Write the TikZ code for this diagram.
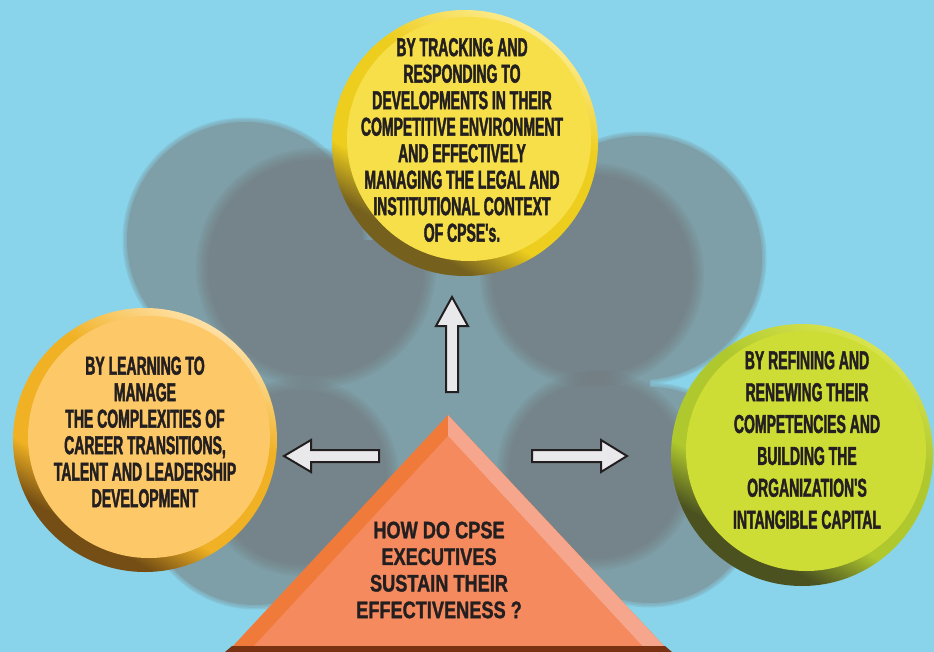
\documentclass[tikz,border=0pt]{standalone}
\usepackage{fontspec}
\newfontfamily\condfont{Liberation Sans}[FakeStretch=0.54,FakeBold=1.6]
\newfontfamily\pyrfont{Liberation Sans}[FakeStretch=0.76,FakeBold=1.2]
\definecolor{sky}{HTML}{89D4EB}
\definecolor{tealgray}{HTML}{7E9FA8}
\definecolor{shadowc}{HTML}{717377}
\definecolor{ink}{HTML}{231F20}
\definecolor{arrowfill}{HTML}{E9E9EB}
\definecolor{yFace}{HTML}{F6DF48}
\definecolor{yLight}{HTML}{FDEB8C}
\definecolor{yMid}{HTML}{EDCD1E}
\definecolor{yDark}{HTML}{75601E}
\definecolor{oFace}{HTML}{FDC868}
\definecolor{oLight}{HTML}{FFE0A5}
\definecolor{oMid}{HTML}{F0B124}
\definecolor{oDark}{HTML}{744E14}
\definecolor{gFace}{HTML}{CEDC36}
\definecolor{gLight}{HTML}{D8E34C}
\definecolor{gMid}{HTML}{AFC82E}
\definecolor{gDark}{HTML}{4B5220}
\definecolor{pFace}{HTML}{F48A5E}
\definecolor{pLeft}{HTML}{F07A3A}
\definecolor{pRight}{HTML}{F6A68C}
\definecolor{pBase}{HTML}{7A3312}
\pgfdeclareverticalshading{rimYel}{100bp}{color(0bp)=(yDark); color(29bp)=(yDark); color(38bp)=(yMid); color(60bp)=(yMid); color(75bp)=(yLight); color(100bp)=(yLight)}
\pgfdeclareverticalshading{rimOra}{100bp}{color(0bp)=(oDark); color(29bp)=(oDark); color(38bp)=(oMid); color(60bp)=(oMid); color(75bp)=(oLight); color(100bp)=(oLight)}
\pgfdeclareverticalshading{rimGre}{100bp}{color(0bp)=(gDark); color(30bp)=(gDark); color(40bp)=(gMid); color(60bp)=(gMid); color(75bp)=(gLight); color(100bp)=(gLight)}
\newcommand\softdisc[3]{%
  \foreach \k in {0,...,5}{%
    \fill[shadowc,fill opacity=0.13] (#1,#2) circle[radius={(#3+6-2.4*\k)*1bp}];}}
\newcommand\softteal[3]{%
  \foreach \k in {1,...,3}{%
    \fill[tealgray,fill opacity=0.3] (#1,#2) circle[radius={(#3+1.5*\k)*1bp}];}}
\begin{document}
\begin{tikzpicture}[x=1bp,y=-1bp,
  ctext/.style={align=center,text=ink,inner sep=0pt,
    font=\condfont\bfseries\fontsize{26}{26.6}\selectfont},
  ptext/.style={align=center,text=ink,inner sep=0pt,
    font=\pyrfont\bfseries\fontsize{24}{26.7}\selectfont},
  rim/.style={circle,inner sep=0pt,minimum size=#1},
  face/.style={circle,inner sep=0pt,minimum size=#1},
  blockarrow/.style={fill=arrowfill,draw=ink,line width=2bp,line join=miter}]
\useasboundingbox (0,0) rectangle (934,652);
\clip (0,0) rectangle (934,652);
\fill[sky] (0,0) rectangle (934,652);
% background blob
\softteal{245}{240}{118}
\softteal{640}{258}{122}
\softteal{255}{495}{110}
\softteal{650}{495}{108}
\fill[tealgray] (245,240) circle[radius=118bp] (640,258) circle[radius=122bp]
  (255,495) circle[radius=110bp] (650,495) circle[radius=108bp]
  (250,240) rectangle (650,600);
\softdisc{316}{268}{114}
\softdisc{592}{275}{106}
\softdisc{300}{477}{93}
\softdisc{597}{470}{94}
% top circle
\node[rim=266bp,shading=rimYel,shading angle=-30] (topRim) at (465,143) {};
\node[face=244bp,fill=yFace] (topFace) at (469,139) {};
\node[ctext] (topText) at (462,140) {BY TRACKING AND\\RESPONDING TO\\DEVELOPMENTS IN THEIR\\COMPETITIVE ENVIRONMENT\\AND EFFECTIVELY\\MANAGING THE LEGAL AND\\INSTITUTIONAL CONTEXT\\OF CPSE's.};
% left circle
\node[rim=264bp,shading=rimOra,shading angle=-30] (leftRim) at (145,440) {};
\node[face=242bp,fill=oFace] (leftFace) at (149,437) {};
\node[ctext] (leftText) at (145,432) {BY LEARNING TO\\MANAGE\\THE COMPLEXITIES OF\\CAREER TRANSITIONS,\\TALENT AND LEADERSHIP\\DEVELOPMENT};
% right circle
\node[rim=262bp,shading=rimGre,shading angle=-30] (rightRim) at (802,455) {};
\node[face=240bp,fill=gFace] (rightFace) at (806,451) {};
\node[ctext,font=\condfont\bfseries\fontsize{26}{32}\selectfont] (rightText) at (807,440) {BY REFINING AND\\RENEWING THEIR\\COMPETENCIES AND\\BUILDING THE\\ORGANIZATION'S\\INTANGIBLE CAPITAL};
% pyramid
\fill[pLeft] (448,415) -- (665,647) -- (232,647) -- cycle;
\fill[pRight] (448,415) -- (665,647) -- (643,647) -- (448,436) -- cycle;
\fill[pFace] (448,436) -- (643,647) -- (253,647) -- cycle;
\fill[pBase] (232,646) -- (665,646) -- (672,652) -- (225,652) -- cycle;
\node[ptext] (pyrText) at (439,570) {HOW DO CPSE\\EXECUTIVES\\SUSTAIN THEIR\\EFFECTIVENESS ?};
% arrows
\draw[blockarrow] (446,392) -- (446,326) -- (436,326) -- (452,297) -- (468,326) -- (458,326) -- (458,392) -- cycle;
\draw[blockarrow] (379,450) -- (311,450) -- (311,440) -- (284,456) -- (311,472) -- (311,462) -- (379,462) -- cycle;
\draw[blockarrow] (532,450) -- (601,450) -- (601,440) -- (627,456) -- (601,472) -- (601,462) -- (532,462) -- cycle;
\end{tikzpicture}
\end{document}
